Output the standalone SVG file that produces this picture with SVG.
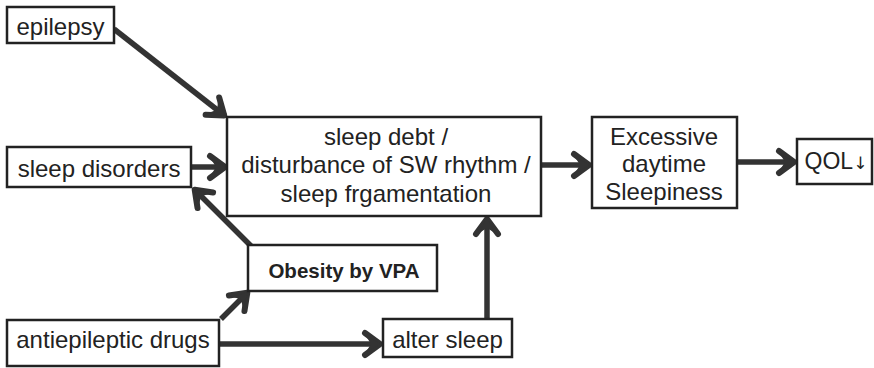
<svg xmlns="http://www.w3.org/2000/svg" width="874" height="368" viewBox="0 0 874 368">
<style>
.box{fill:#fff;stroke:#222;stroke-width:2.5}
.t{font-family:"Liberation Sans",Arial,sans-serif;font-size:24px;fill:#222;text-anchor:middle}
.b{font-weight:bold;font-size:20.5px}
.c{fill:none;stroke:#333;stroke-width:5.5}
.ar{font-family:"DejaVu Sans",sans-serif;font-size:17px;fill:#222}
</style>
<defs>
<marker id="ah" markerUnits="userSpaceOnUse" markerWidth="34" markerHeight="34" viewBox="-22 -17 26 34" refX="0" refY="0" orient="auto">
<path d="M-16,-11 L-1,0 L-16,11" fill="none" stroke="#333" stroke-width="6" stroke-linecap="round" stroke-linejoin="round"/>
<path d="M-15,-8 L0,0 L-15,8 L-10,0 Z" fill="#333"/>
</marker>
</defs>
<rect width="874" height="368" fill="#fff"/>
<g id="connectors">
<line class="c" x1="114" y1="29" x2="225" y2="116" marker-end="url(#ah)"/>
<line class="c" x1="191" y1="167" x2="226" y2="167" marker-end="url(#ah)"/>
<line class="c" x1="541" y1="165" x2="590" y2="165" marker-end="url(#ah)"/>
<line class="c" x1="737" y1="162" x2="795" y2="162" marker-end="url(#ah)"/>
<line class="c" x1="252" y1="247" x2="194" y2="189" marker-end="url(#ah)"/>
<line class="c" x1="221" y1="319" x2="248" y2="292" marker-end="url(#ah)"/>
<line class="c" x1="219" y1="344" x2="381" y2="344" marker-end="url(#ah)"/>
<line class="c" x1="487" y1="319" x2="487" y2="218" marker-end="url(#ah)"/>
</g>
<g id="epilepsy"><rect class="box" x="7" y="7" width="107" height="36"/><text class="t" x="60.5" y="35">epilepsy</text></g>
<g id="sleep-disorders"><rect class="box" x="7" y="147" width="184" height="40"/><text class="t" x="99" y="177">sleep disorders</text></g>
<g id="sleep-debt"><rect class="box" x="227" y="117" width="314" height="99"/>
<text class="t" x="386" y="145">sleep debt /</text>
<text class="t" x="386" y="173">disturbance of SW rhythm /</text>
<text class="t" x="386" y="202">sleep frgamentation</text></g>
<g id="eds"><rect class="box" x="592" y="117" width="145" height="91"/>
<text class="t" x="664" y="145">Excessive</text>
<text class="t" x="664" y="172">daytime</text>
<text class="t" x="664" y="200">Sleepiness</text></g>
<g id="qol"><rect class="box" x="797" y="139" width="75" height="45"/><text class="t" x="836" y="169" style="font-size:23px">QOL<tspan class="ar">↓</tspan></text></g>
<g id="obesity"><rect class="box" x="248" y="245" width="189" height="46"/><text class="t b" x="344" y="278">Obesity by VPA</text></g>
<g id="aed"><rect class="box" x="7" y="320" width="212" height="46"/><text class="t" x="113" y="348">antiepileptic drugs</text></g>
<g id="alter-sleep"><rect class="box" x="383" y="319" width="129" height="38"/><text class="t" x="447.5" y="348">alter sleep</text></g>
</svg>
